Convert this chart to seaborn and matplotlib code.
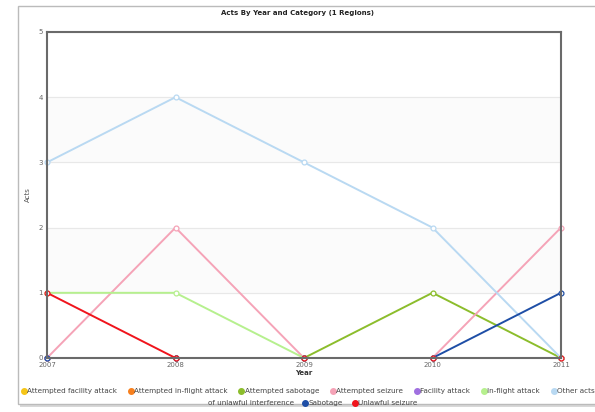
import pandas as pd
import matplotlib
matplotlib.use("Agg")
import matplotlib.pyplot as plt
from matplotlib.patches import Rectangle
from matplotlib.lines import Line2D
import seaborn as sns

# data
years = [2007, 2008, 2009, 2010, 2011]
categories = ['Attempted facility attack', 'Attempted in-flight attack', 'Attempted sabotage',
              'Attempted seizure', 'Facility attack', 'In-flight attack',
              'Other acts of unlawful interference', 'Sabotage', 'Unlawful seizure']
attempted_facility_attack = [0, 0, 0, 0, 0]
attempted_inflight_attack = [0, 0, 0, 0, 0]
attempted_sabotage = [0, 0, 0, 1, 0]
attempted_seizure = [0, 2, 0, 0, 2]
facility_attack = [0, 0, 0, 0, 0]
inflight_attack = [1, 1, 0, 0, 0]
other_acts = [3, 4, 3, 2, 0]
sabotage = [0, 0, 0, 0, 1]
unlawful_seizure = [1, 0, 0, 0, 0]
colors = ['#f5c518', '#f7801e', '#8cbd2c', '#f5a3b7', '#a070e0',
          '#b6f08e', '#b9d9f2', '#1e4ea6', '#f0141c']

series = [attempted_facility_attack, attempted_inflight_attack, attempted_sabotage,
          attempted_seizure, facility_attack, inflight_attack, other_acts,
          sabotage, unlawful_seizure]
rows = []
for cat, vals in zip(categories, series):
    for y, v in zip(years, vals):
        rows.append({'Year': y, 'Acts': v, 'Category': cat})
df = pd.DataFrame(rows)

sns.set_style("white")
fig = plt.figure(figsize=(5.95, 4.12), dpi=100)
fig.patch.set_facecolor('white')

# panel with shadow
fig.patches.append(Rectangle((20/595, 5/412), 1.0, 400/412, transform=fig.transFigure,
                             facecolor='#d8d8d8', edgecolor='none', zorder=-10))
fig.patches.append(Rectangle((18/595, 8/412), 1.0, 398/412, transform=fig.transFigure,
                             facecolor='white', edgecolor='#bbbbbb', lw=1.0, zorder=-9))

ax = fig.add_axes([47/595, 1 - 358/412, 514/595, 326/412])
ax.set_zorder(2)
ax.set_facecolor('white')
for lo in [1, 3]:
    ax.axhspan(lo, lo + 1, color='#fbfbfb', zorder=0)

sns.lineplot(data=df, x='Year', y='Acts', hue='Category', hue_order=categories,
             palette=colors, ax=ax, linewidth=1.4, marker='o', markersize=3.5,
             markerfacecolor='white', markeredgewidth=0.9, legend=False)
for line, c in zip(ax.get_lines(), colors):
    line.set_markeredgecolor(c)
    line.set_clip_on(False)
    line.set_zorder(2)

ax.set_xlim(2007, 2011)
ax.set_ylim(0, 5)
ax.set_xticks(years)
ax.set_yticks([0, 1, 2, 3, 4, 5])
ax.tick_params(labelsize=5, colors='#666666', length=2, pad=1)
ax.yaxis.grid(True, color='#e8e8e8', lw=0.8)
ax.set_axisbelow(True)
for s in ax.spines.values():
    s.set_color('#6a6a6a')
    s.set_linewidth(1.5)
    s.set_zorder(3)
ax.set_xlabel('Year', fontsize=5, fontweight='bold', color='#333333', labelpad=1)
ax.set_ylabel('Acts', fontsize=5, color='#555555', labelpad=5)
fig.text(0.5, 1 - 13/412, 'Acts By Year and Category (1 Regions)', ha='center', va='center',
         fontsize=5, fontweight='bold', color='#222222')

# legend, row 1 and row 2
def handle(c):
    return Line2D([], [], marker='o', ls='none', color=c, markersize=4)

labels1 = categories[:6] + ['Other acts']
h1 = [handle(c) for c in colors[:7]]
leg1 = fig.legend(h1, labels1, ncol=7, loc='center left', bbox_to_anchor=(21/595, 1 - 391/412),
                  frameon=False, fontsize=5.2, handletextpad=0.05, columnspacing=1.5,
                  handlelength=0.8, borderaxespad=0, borderpad=0)
for t in leg1.get_texts():
    t.set_color('#444444')
labels2 = ['of unlawful interference', categories[7], categories[8]]
h2 = [Line2D([], [], ls='none')] + [handle(c) for c in colors[7:]]
leg2 = fig.legend(h2, labels2, ncol=3, loc='center', bbox_to_anchor=(0.52, 1 - 403/412),
                  frameon=False, fontsize=5.2, handletextpad=0.05, columnspacing=1.2,
                  handlelength=0.8, borderaxespad=0, borderpad=0)
for t in leg2.get_texts():
    t.set_color('#444444')

fig.savefig('out.png', dpi=100)
